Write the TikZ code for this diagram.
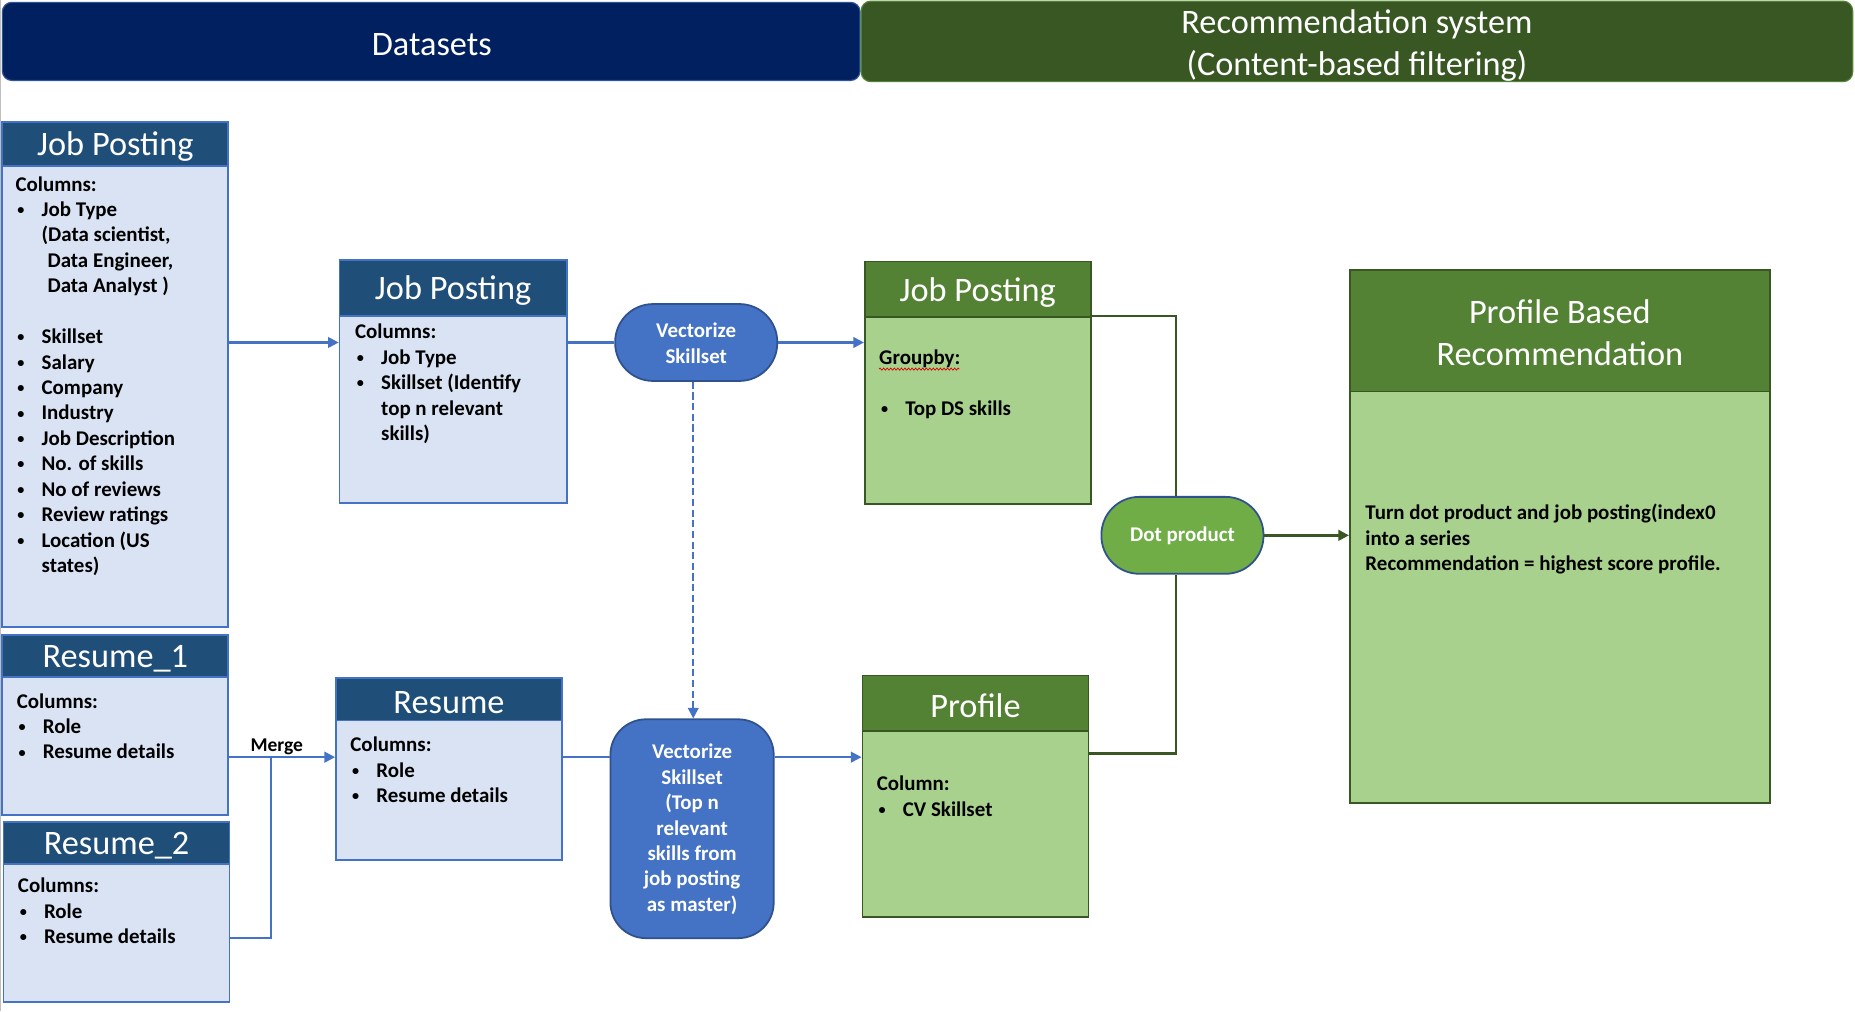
\documentclass[tikz,border=0pt]{standalone}
\usepackage{fontspec}
\setmainfont{Carlito}
\usetikzlibrary{arrows.meta,fit,decorations.pathmorphing}
\definecolor{navy}{HTML}{002060}
\definecolor{navyedge}{HTML}{2F5597}
\definecolor{recgreen}{HTML}{385723}
\definecolor{recedge}{HTML}{548235}
\definecolor{bhead}{HTML}{1F4E79}
\definecolor{bbody}{HTML}{DAE3F3}
\definecolor{bborder}{HTML}{4472C4}
\definecolor{ghead}{HTML}{548235}
\definecolor{gbody}{HTML}{A9D18E}
\definecolor{gborder}{HTML}{385723}
\definecolor{pillfill}{HTML}{4472C4}
\definecolor{pilledge}{HTML}{2F528F}
\definecolor{dotfill}{HTML}{70AD47}
\newcommand{\hdfont}{\fontsize{29}{35.4}\selectfont}
\newcommand{\bdfont}{\fontsize{17.7}{21.5}\selectfont\bfseries}
\newcommand{\bulx}{\makebox[22pt][l]{\hspace{1.5pt}\raisebox{1.6pt}{\fontsize{12}{12}\selectfont•}}}
\begin{document}
\begin{tikzpicture}[x=1pt,y=-1pt,
  bbodyst/.style={draw=bborder, fill=bbody, line width=1.5pt, inner sep=0pt},
  bheadst/.style={draw=bborder, fill=bhead, line width=1.5pt, inner sep=0pt},
  gbodyst/.style={draw=gborder, fill=gbody, line width=1.5pt, inner sep=0pt},
  gheadst/.style={draw=gborder, fill=ghead, line width=1.5pt, inner sep=0pt},
  htxt/.style={inner sep=0pt, text=white, font=\hdfont, align=center},
  btxt/.style={anchor=north west, inner sep=0pt, align=left, font=\bdfont},
  ptxt/.style={inner sep=0pt, text=white, font=\bdfont, align=center},
  pill/.style={draw=pilledge, fill=pillfill, line width=1.5pt, inner sep=0pt},
  bline/.style={draw=bborder, line width=1.8pt},
  barrow/.style={bline, -{Triangle[length=9pt,width=9pt]}},
  gline/.style={draw=gborder, line width=2pt},
  garrow/.style={gline, -{Triangle[length=9pt,width=9pt]}}
]
\useasboundingbox[fill=white] (0,0) rectangle (1568,854.6);
\draw[black!25, line width=1pt] (0.5,0) -- (0.5,854.6);

% top banners
\node (ds) [draw=navyedge, fill=navy, line width=1pt, rounded corners=8pt, inner sep=0pt, fit={(2,2)(727,68)}] {};
\node (dst) [htxt] at (365,38) {Datasets};
\node (rs) [draw=recedge, fill=recgreen, line width=1pt, rounded corners=8pt, inner sep=0pt, fit={(728,1)(1566,69)}] {};
\node (rst) [htxt] at (1147,38.5) {Recommendation system\\(Content-based filtering)};

% left job posting
\node (jp1) [bbodyst, fit={(2,103)(193,530)}] {};
\node (jp1h) [bheadst, fit={(2,103)(193,140)}] {};
\node (jp1ht) [htxt] at (97.5,124) {Job Posting};
\node (jp1t) [btxt] at (13,146.25) {\strut Columns:\\
\bulx Job Type\\
\hspace*{22pt}(Data scientist,\\
\hspace*{27pt}Data Engineer,\\
\hspace*{27pt}Data Analyst )\\[21.5pt]
\bulx Skillset\\
\bulx Salary\\
\bulx Company\\
\bulx Industry\\
\bulx Job Description\\
\bulx No. of skills\\
\bulx No of reviews\\
\bulx Review ratings\\
\bulx Location (US\\
\hspace*{22pt}states)};

% resume 1
\node (res1) [bbodyst, fit={(2,537)(193,689)}] {};
\node (res1h) [bheadst, fit={(2,537)(193,572)}] {};
\node (res1ht) [htxt] at (97.5,557) {Resume\_1};
\node (res1t) [btxt] at (14,583.25) {\strut Columns:\\
\bulx Role\\
\bulx Resume details};

% resume 2
\node (res2) [bbodyst, fit={(3,695)(194,847)}] {};
\node (res2h) [bheadst, fit={(3,695)(194,730)}] {};
\node (res2ht) [htxt] at (98.5,715) {Resume\_2};
\node (res2t) [btxt] at (15,739.25) {\strut Columns:\\
\bulx Role\\
\bulx Resume details};

% middle job posting
\node (jp2) [bbodyst, fit={(287,220)(479,425)}] {};
\node (jp2h) [bheadst, fit={(287,220)(479,267)}] {};
\node (jp2ht) [htxt] at (383,246) {Job Posting};
\node (jp2t) [btxt] at (300,271.25) {\strut Columns:\\
\bulx Job Type\\
\bulx Skillset (Identify\\
\hspace*{22pt}top n relevant\\
\hspace*{22pt}skills)};

% resume merged
\node (res) [bbodyst, fit={(284,573)(475,727)}] {};
\node (resh) [bheadst, fit={(284,573)(475,609)}] {};
\node (resht) [htxt] at (379.5,593.5) {Resume};
\node (rest) [btxt] at (296,620.25) {\strut Columns:\\
\bulx Role\\
\bulx Resume details};

% vectorize pills
\node (vec1) [pill, rounded corners=32pt, fit={(520,257)(657,322)}] {};
\node (vec1t) [ptxt] at (588.5,290) {Vectorize\\Skillset};
\node (vec2) [pill, rounded corners=30pt, fit={(516,608)(654,793)}] {};
\node (vec2t) [ptxt] at (585,701) {Vectorize\\Skillset\\(Top n\\relevant\\skills from\\job posting\\as master)};

% green job posting
\node (gjp) [gbodyst, fit={(731,221)(922,426)}] {};
\node (gjph) [gheadst, fit={(731,221)(922,268)}] {};
\node (gjpht) [htxt] at (826.5,247) {Job Posting};
\node (gjpt) [btxt] at (743,293.25) {\strut Groupby:\\[21.5pt]
\bulx Top DS skills};
\draw[red!85!black, line width=0.6pt, decorate, decoration={snake, amplitude=0.9pt, segment length=3pt}] (743,312) -- (811,312);

% profile
\node (prof) [gbodyst, fit={(729,571)(920,775)}] {};
\node (profh) [gheadst, fit={(729,571)(920,618)}] {};
\node (profht) [htxt] at (824.5,596.5) {Profile};
\node (proft) [btxt] at (741,653.25) {\strut Column:\\
\bulx CV Skillset};

% dot product
\node (dot) [draw=pilledge, fill=dotfill, line width=1.5pt, inner sep=0pt, rounded corners=32pt, fit={(931,420)(1068,485)}] {};
\node (dott) [ptxt] at (999.5,453) {Dot product};

% profile based recommendation
\node (pbr) [gbodyst, fit={(1141,228)(1496,679)}] {};
\node (pbrh) [gheadst, fit={(1141,228)(1496,331)}] {};
\node (pbrht) [htxt] at (1318.5,281.5) {Profile Based\\Recommendation};
\node (pbrt) [btxt] at (1154,424.25) {\strut Turn dot product and job posting(index0\\
into a series\\
Recommendation = highest score profile.};

% connectors
\coordinate (m) at (229,640);
\coordinate (m2) at (229,793);
\coordinate (g1) at (994,267);
\coordinate (g2) at (994,637);

\draw[barrow] (jp1.east |- vec1) -- (jp2.west |- vec1);
\draw[bline] (jp2.east |- vec1) -- (vec1.west);
\draw[barrow] (vec1.east) -- (gjp.west |- vec1);
\draw[barrow, dash pattern=on 6pt off 3pt] (vec1.south -| 586,0) -- (vec2.north -| 586,0);

\draw[barrow] (res1.east |- m) -- (res.west |- m);
\draw[bline] (res2.east |- m2) -- (m2) -- (m);
\node (mergelbl) [inner sep=0pt, font=\fontsize{16.5}{20}\selectfont\bfseries, anchor=south] at (234,638) {Merge};
\draw[bline] (res.east |- m) -- (vec2.west |- m);
\draw[barrow] (vec2.east |- m) -- (prof.west |- m);

\draw[gline] (gjp.east |- g1) -- (g1) -- (g1 |- dot.north);
\draw[gline] (prof.east |- g2) -- (g2) -- (g2 |- dot.south);
\draw[garrow] (dot.east) -- (pbr.west |- dot.east);
\end{tikzpicture}
\end{document}
